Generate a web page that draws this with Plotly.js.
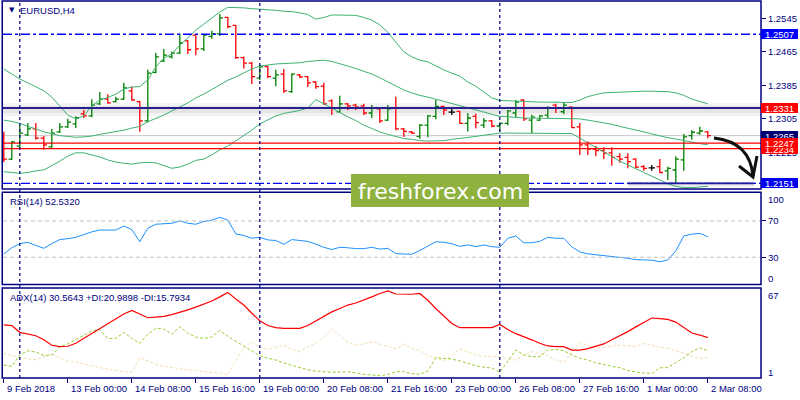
<!DOCTYPE html>
<html><head><meta charset="utf-8">
<script src="https://cdn.plot.ly/plotly-3.0.1.min.js"></script>
<style>html,body{margin:0;padding:0;background:#fff}#chart{width:800px;height:400px}</style>
</head><body><div id="chart"></div>
<script>
// ---- time axis ----
const tickBars = [0, 8, 16, 24, 32, 40, 48, 56, 64, 72, 80, 88];
const tickLabels = ['9 Feb 2018','13 Feb 00:00','14 Feb 08:00','15 Feb 16:00','19 Feb 00:00','20 Feb 08:00','21 Feb 16:00','23 Feb 00:00','26 Feb 08:00','27 Feb 16:00','1 Mar 00:00','2 Mar 08:00'];
const weekStarts = [2, 32, 62];

// ---- EURUSD H4 bars ----
const open = [1.2262,1.2209,1.2240,1.2267,1.2281,1.2259,1.2238,1.2274,1.2286,1.2293,
1.2317,1.2312,1.2341,1.2352,1.2346,1.2352,1.2372,1.2346,1.2300,1.2416,
1.2443,1.2453,1.2462,1.2491,1.2505,1.2472,1.2502,1.2508,1.2547,1.2528,
1.2451,1.2438,1.2402,1.2430,1.2402,1.2412,1.2370,1.2410,1.2406,1.2393,
1.2383,1.2348,1.2322,1.2341,1.2338,1.2336,1.2319,1.2329,1.2302,1.2331,
1.2281,1.2274,1.2263,1.2290,1.2311,1.2335,1.2321,1.2323,1.2294,1.2311,
1.2290,1.2300,1.2288,1.2294,1.2319,1.2350,1.2302,1.2302,1.2314,1.2338,
1.2322,1.2333,1.2286,1.2243,1.2233,1.2229,1.2224,1.2215,1.2213,1.2209,
1.2191,1.2188,1.2191,1.2181,1.2183,1.2207,1.2265,1.2271,1.2274];
const high = [1.2274,1.2252,1.2290,1.2295,1.2295,1.2264,1.2281,1.2295,1.2305,1.2311,
1.2326,1.2352,1.2369,1.2364,1.2358,1.2391,1.2382,1.2348,1.2422,1.2462,
1.2472,1.2466,1.2508,1.2493,1.2508,1.2508,1.2515,1.2555,1.2549,1.2529,
1.2454,1.2441,1.2434,1.2431,1.2422,1.2424,1.2414,1.2412,1.2407,1.2395,
1.2391,1.2352,1.2360,1.2343,1.2341,1.2341,1.2338,1.2331,1.2338,1.2358,
1.2283,1.2276,1.2293,1.2314,1.2350,1.2336,1.2333,1.2324,1.2319,1.2317,
1.2307,1.2302,1.2297,1.2326,1.2350,1.2352,1.2315,1.2314,1.2335,1.2341,
1.2344,1.2335,1.2295,1.2251,1.2240,1.2237,1.2237,1.2223,1.2223,1.2211,
1.2195,1.2195,1.2209,1.2191,1.2216,1.2269,1.2278,1.2286,1.2276];
const low = [1.2202,1.2207,1.2236,1.2264,1.2255,1.2231,1.2236,1.2271,1.2283,1.2283,
1.2307,1.2309,1.2338,1.2341,1.2344,1.2350,1.2348,1.2274,1.2297,1.2414,
1.2441,1.2449,1.2460,1.2460,1.2457,1.2467,1.2496,1.2503,1.2521,1.2448,
1.2425,1.2388,1.2398,1.2402,1.2383,1.2367,1.2367,1.2402,1.2381,1.2377,
1.2338,1.2314,1.2319,1.2326,1.2326,1.2314,1.2307,1.2295,1.2300,1.2278,
1.2262,1.2269,1.2257,1.2261,1.2304,1.2314,1.2314,1.2293,1.2275,1.2282,
1.2283,1.2285,1.2275,1.2290,1.2309,1.2300,1.2271,1.2300,1.2307,1.2319,
1.2316,1.2283,1.2219,1.2219,1.2216,1.2209,1.2193,1.2200,1.2187,1.2187,
1.2181,1.2181,1.2175,1.2159,1.2151,1.2181,1.2255,1.2267,1.2259];
const close = [1.2209,1.2250,1.2271,1.2281,1.2259,1.2243,1.2271,1.2286,1.2297,1.2307,
1.2312,1.2338,1.2352,1.2343,1.2352,1.2379,1.2350,1.2300,1.2414,1.2453,
1.2457,1.2462,1.2486,1.2470,1.2472,1.2505,1.2508,1.2546,1.2525,1.2451,
1.2438,1.2406,1.2429,1.2406,1.2410,1.2372,1.2412,1.2405,1.2391,1.2382,
1.2341,1.2331,1.2341,1.2336,1.2333,1.2319,1.2331,1.2300,1.2329,1.2281,
1.2275,1.2271,1.2290,1.2312,1.2335,1.2326,1.2321,1.2294,1.2307,1.2296,
1.2300,1.2288,1.2294,1.2324,1.2345,1.2305,1.2309,1.2312,1.2332,1.2330,
1.2338,1.2284,1.2243,1.2233,1.2229,1.2223,1.2213,1.2209,1.2203,1.2190,
1.2187,1.2188,1.2177,1.2187,1.2209,1.2262,1.2273,1.2276,1.2265];

// ---- Bollinger Bands ----
const bbUpper = [1.2424,1.2412,1.2400,1.2391,1.2381,1.2372,1.2357,1.2336,1.2314,1.2305,
1.2312,1.2336,1.2350,1.2356,1.2364,1.2376,1.2381,1.2382,1.2398,1.2429,
1.2450,1.2460,1.2481,1.2498,1.2517,1.2531,1.2546,1.2560,1.2571,1.2571,
1.2570,1.2568,1.2567,1.2565,1.2564,1.2562,1.2561,1.2558,1.2554,1.2543,
1.2547,1.2553,1.2553,1.2553,1.2552,1.2547,1.2541,1.2529,1.2512,1.2488,
1.2465,1.2453,1.2445,1.2441,1.2431,1.2422,1.2414,1.2407,1.2393,1.2383,
1.2369,1.2355,1.2349,1.2348,1.2348,1.2346,1.2346,1.2345,1.2345,1.2345,
1.2345,1.2344,1.2350,1.2358,1.2363,1.2367,1.2368,1.2369,1.2370,1.2371,
1.2371,1.2371,1.2370,1.2370,1.2367,1.2361,1.2352,1.2346,1.2341];
const bbMiddle = [1.2302,1.2299,1.2294,1.2288,1.2281,1.2274,1.2269,1.2265,1.2263,1.2261,
1.2262,1.2264,1.2268,1.2271,1.2275,1.2278,1.2283,1.2287,1.2298,1.2306,
1.2314,1.2324,1.2333,1.2343,1.2355,1.2364,1.2375,1.2386,1.2397,1.2405,
1.2414,1.2424,1.2431,1.2434,1.2436,1.2437,1.2438,1.2439,1.2442,1.2444,
1.2445,1.2442,1.2437,1.2431,1.2425,1.2419,1.2412,1.2403,1.2393,1.2383,
1.2374,1.2367,1.2361,1.2357,1.2352,1.2346,1.2341,1.2336,1.2331,1.2326,
1.2321,1.2317,1.2311,1.2310,1.2308,1.2307,1.2307,1.2306,1.2306,1.2306,
1.2306,1.2306,1.2305,1.2302,1.2299,1.2295,1.2292,1.2287,1.2283,1.2278,
1.2274,1.2269,1.2264,1.2260,1.2257,1.2253,1.2250,1.2246,1.2243];
const bbLower = [1.2179,1.2177,1.2175,1.2177,1.2181,1.2183,1.2193,1.2204,1.2216,1.2224,
1.2224,1.2219,1.2214,1.2207,1.2202,1.2199,1.2197,1.2200,1.2201,1.2200,
1.2193,1.2187,1.2190,1.2197,1.2206,1.2209,1.2219,1.2231,1.2240,1.2252,
1.2264,1.2278,1.2293,1.2303,1.2312,1.2318,1.2321,1.2325,1.2331,1.2351,
1.2341,1.2330,1.2319,1.2310,1.2301,1.2290,1.2282,1.2274,1.2268,1.2263,
1.2258,1.2256,1.2253,1.2252,1.2252,1.2253,1.2256,1.2258,1.2260,1.2263,
1.2266,1.2269,1.2271,1.2271,1.2271,1.2271,1.2271,1.2271,1.2271,1.2271,
1.2271,1.2270,1.2259,1.2249,1.2237,1.2226,1.2214,1.2204,1.2195,1.2185,
1.2177,1.2168,1.2159,1.2150,1.2144,1.2141,1.2141,1.2142,1.2144];

// ---- RSI(14) ----
const rsi = [33.5,40.5,45,46.5,43,39.9,45,49.5,50.5,52,
55,58,60,60,60,64.5,60.5,47.2,62,66.4,
67,67.5,70,67.5,66.4,69.5,71,74,71,55.7,
54,51,52,49.1,48.5,44.3,49.5,48.8,47.5,44.5,
41,38.5,41,40.5,39.5,39.5,41,39,39.9,34,
33.3,33.3,37.5,42.5,47.2,46.5,45,42,43.6,41.7,
43.6,41.7,41,50.9,53.5,46,46,47.5,52,50.9,
50.9,41.5,36,33.8,32.8,32.2,31.6,30.3,28.9,27.4,
27,26.8,25,27,37,53.5,55.5,56.4,52.532];
const rsiLevels = [70, 30];

// ---- ADX(14) ----
const adx = [39.9,39.4,34.5,33,32,29,25,24,24.3,26.5,
30,34,37.5,41,44,48,50.5,48,45.2,45.7,
46.2,47.5,49,51,53,55,57.5,60.5,63.8,59,
54.5,48.5,43,39.5,38,37.4,37.4,37.4,39.5,43,
46,49.5,52,54.5,56,58,60.5,63,64.8,62.6,
62.4,62.4,63,58,52,46.5,41,37.9,37.9,37.9,
37.9,37.9,40.3,36.5,33.5,31.5,29,26.5,24.5,24,
24,21.5,21.5,22.5,24.3,26,29,31.8,35,38.5,
41.5,45,44.5,44,42,38,34,32.5,30.564];
const plusDI = [10.5,9.5,17.9,21,20,17.5,17.9,24,26,29,
32,35.5,36.5,30,30,34.5,30,26.4,33,37.4,
37,33,38.6,34,31,30,31,36,31.5,28,
24.5,21,17.4,15.5,14.2,12,10.5,8.5,7,6.1,
5.5,5.2,5.4,5.6,4.8,3.7,3.2,2.8,3.5,5.6,
5.6,4.2,3.7,6,16,15.5,14.9,13.5,11.5,10,
9,8.3,5.2,13,21.5,18,16.6,16.6,21.5,22,
21,17.9,15.5,14.2,12,11,9.5,8.6,6.5,5.5,
4.6,4.4,8.5,8.6,12,16,20.3,23.2,20.99];
const minusDI = [19.1,17.5,15.9,15,14.5,16.5,18.5,16,13.5,12.5,
11,10,8.6,7.5,6.5,5.5,5.4,15.9,13.5,11,
9.5,8.5,7.6,7,6.5,5.6,5,4.5,3.2,14,
23,27.6,23.5,22,23.5,25,22,20.3,24,26.4,
31,37,32,27,25.2,26,27.6,26,24,22.5,
25.7,23,21,17.5,15.9,13.5,17.5,22.3,20,18.5,
16.6,16.6,16.6,14.5,14.2,18,20.3,19,17.4,14,
12.5,20,27.2,25,22.8,23.5,24.5,25.2,24.5,24,
26.4,25,23.5,22.8,21,19.1,17,15.4,15.79];

// ---- price levels and axis labels ----
const priceTicks = [1.2545, 1.2465, 1.2385, 1.2305, 1.2225];
const dashDotLevels = [1.2507, 1.2151];
const redLevels = [1.2247, 1.2234];
const resistanceLevel = 1.2331;
const bidLevel = 1.2265;
const supportLevel = 1.2151;
const boxValues = [1.2507, 1.2331, 1.2265, 1.2234, 1.2247, 1.2151];
const boxColors = ['#0000ff', '#ff0000', '#000070', '#ff0000', '#ff0000', '#0000ee'];

// ---------------- build ----------------
const NAVY = '#000080';
const FONT = 'Liberation Sans, Arial, sans-serif';
const idx = open.map((_, i) => i);
const pick = (arr, ids) => ids.map(i => arr[i]);
const moving = idx.filter(i => open[i] !== close[i]);
const doji = idx.filter(i => open[i] === close[i]);

const bbStyle = {color: '#3cb371', width: 1};
const traces = [
  {type: 'scatter', mode: 'lines', x: idx, y: bbUpper, line: bbStyle, xaxis: 'x', yaxis: 'y', hoverinfo: 'skip'},
  {type: 'scatter', mode: 'lines', x: idx, y: bbMiddle, line: bbStyle, xaxis: 'x', yaxis: 'y', hoverinfo: 'skip'},
  {type: 'scatter', mode: 'lines', x: idx, y: bbLower, line: bbStyle, xaxis: 'x', yaxis: 'y', hoverinfo: 'skip'},
  {type: 'ohlc', x: pick(idx, moving), open: pick(open, moving), high: pick(high, moving),
   low: pick(low, moving), close: pick(close, moving), tickwidth: 0.4,
   increasing: {line: {color: '#008000', width: 1.3}}, decreasing: {line: {color: '#ff0000', width: 1.3}},
   xaxis: 'x', yaxis: 'y', hoverinfo: 'skip'},
  {type: 'ohlc', x: pick(idx, doji), open: pick(open, doji), high: pick(high, doji),
   low: pick(low, doji), close: pick(close, doji), tickwidth: 0.4,
   increasing: {line: {color: '#000000', width: 1.3}}, decreasing: {line: {color: '#000000', width: 1.3}},
   xaxis: 'x', yaxis: 'y', hoverinfo: 'skip'},
  {type: 'scatter', mode: 'lines', x: idx, y: rsi, line: {color: '#1e90ff', width: 1}, xaxis: 'x', yaxis: 'y2', hoverinfo: 'skip'},
  {type: 'scatter', mode: 'lines', x: idx, y: minusDI, line: {color: '#f5deb3', width: 1, dash: '3px,2px'}, xaxis: 'x', yaxis: 'y3', hoverinfo: 'skip'},
  {type: 'scatter', mode: 'lines', x: idx, y: plusDI, line: {color: '#9acd32', width: 1, dash: '3px,2px'}, xaxis: 'x', yaxis: 'y3', hoverinfo: 'skip'},
  {type: 'scatter', mode: 'lines', x: idx, y: adx, line: {color: '#ff0000', width: 1.2}, xaxis: 'x', yaxis: 'y3', hoverinfo: 'skip'}
];

// pixel helpers for decorations (plot area: x 3..761, y 0..400)
const px = v => (v - 3) / 758;
const py = v => (400 - v) / 400;

const shapes = [];
// shadows
shapes.push({type: 'rect', xref: 'paper', yref: 'y', x0: 0, x1: 1, y0: resistanceLevel - 0.0020, y1: resistanceLevel + 0.0011, fillcolor: 'rgba(140,140,140,0.10)', line: {width: 0}, layer: 'below'});
shapes.push({type: 'rect', xref: 'paper', yref: 'y', x0: 0, x1: 1, y0: resistanceLevel - 0.0012, y1: resistanceLevel + 0.0004, fillcolor: 'rgba(140,140,140,0.14)', line: {width: 0}, layer: 'below'});
// levels
dashDotLevels.forEach(v => shapes.push({type: 'line', xref: 'paper', yref: 'y', x0: 0, x1: 1, y0: v, y1: v, line: {color: '#0000ff', width: 1.3, dash: 'dashdot'}}));
shapes.push({type: 'line', xref: 'paper', yref: 'y', x0: 0, x1: 1, y0: bidLevel, y1: bidLevel, line: {color: '#c8c8c8', width: 1}, layer: 'below'});
redLevels.forEach(v => shapes.push({type: 'line', xref: 'paper', yref: 'y', x0: 0, x1: 1, y0: v, y1: v, line: {color: '#ff0000', width: 1.4}}));
shapes.push({type: 'line', xref: 'paper', yref: 'y', x0: 0, x1: 1, y0: resistanceLevel, y1: resistanceLevel, line: {color: '#2a1f8f', width: 2}});
// support segment with shadow
shapes.push({type: 'rect', xref: 'x', yref: 'y', x0: 78, x1: 93.8, y0: supportLevel - 0.0008, y1: supportLevel + 0.0004, fillcolor: 'rgba(140,140,140,0.18)', line: {width: 0}});
shapes.push({type: 'line', xref: 'x', yref: 'y', x0: 78, x1: 93.8, y0: supportLevel, y1: supportLevel, line: {color: '#1a1aa0', width: 1.6}});
// RSI levels
rsiLevels.forEach(v => shapes.push({type: 'line', xref: 'paper', yref: 'y2', x0: 0, x1: 1, y0: v, y1: v, line: {color: '#c0c0c0', width: 1, dash: '4px,3px'}}));
// week separators
weekStarts.forEach(b => shapes.push({type: 'line', xref: 'x', yref: 'paper', x0: b, x1: b, y0: 0.055, y1: 0.9975, line: {color: NAVY, width: 1.2, dash: '3px,3px'}}));
// panel frames
[[0.5275, 0.9975], [0.28875, 0.51925], [0.055, 0.28]].forEach(d => shapes.push({type: 'rect', xref: 'paper', yref: 'paper', x0: -0.001, x1: 1, y0: d[0], y1: d[1], line: {color: NAVY, width: 1.5}, fillcolor: 'rgba(0,0,0,0)'}));
// hand-drawn arrow
shapes.push({type: 'path', xref: 'paper', yref: 'paper', layer: 'above',
  path: `M ${px(714)},${py(138)} Q ${px(750)},${py(142)} ${px(753)},${py(176)}`, line: {color: '#111', width: 3}});
shapes.push({type: 'path', xref: 'paper', yref: 'paper', layer: 'above',
  path: `M ${px(739)},${py(166)} L ${px(753)},${py(177)} L ${px(757)},${py(156)}`, line: {color: '#111', width: 3}});
// watermark box
shapes.push({type: 'rect', xref: 'paper', yref: 'paper', layer: 'above', x0: px(351), x1: px(529), y0: py(207), y1: py(174), fillcolor: '#8fb23f', line: {width: 0}});

const annotations = [];
const txt = (text, x, y, opts) => Object.assign({text, xref: 'paper', yref: 'paper', x, y, xanchor: 'left', yanchor: 'middle', showarrow: false, font: {family: FONT, size: 9.5, color: NAVY}}, opts || {});
annotations.push(txt('▼', px(7), py(10), {font: {family: 'DejaVu Sans', size: 7, color: NAVY}}));
annotations.push(txt('EURUSD,H4', px(18), py(10)));
annotations.push(txt('RSI(14) ' + rsi[rsi.length - 1].toFixed(4), px(8), py(201.5)));
annotations.push(txt('ADX(14) 30.5643 +DI:20.9898 -DI:15.7934', px(8), py(297)));
// right side fixed scale labels of subwindows
annotations.push(txt('100', px(766), py(199.5)));
annotations.push(txt('0', px(766), py(278)));
annotations.push(txt('67', px(766), py(295)));
annotations.push(txt('1', px(766), py(372.5)));
// time labels
tickBars.forEach((b, k) => annotations.push({text: tickLabels[k], xref: 'x', yref: 'paper', x: b, y: py(388.5), xanchor: 'left', yanchor: 'middle', xshift: 1, showarrow: false, font: {family: FONT, size: 9.5, color: NAVY}}));
// price boxes
boxValues.forEach((v, k) => annotations.push({text: v.toFixed(4), xref: 'paper', yref: 'y', x: 1.0005, y: v, xanchor: 'left', yanchor: 'middle', showarrow: false, bgcolor: boxColors[k], width: 37, height: 10, borderpad: 0, borderwidth: 0, font: {family: FONT, size: 9.5, color: '#ffffff'}}));
// watermark text
annotations.push({text: 'freshforex.com', xref: 'paper', yref: 'paper', x: px(440), y: py(191), xanchor: 'center', yanchor: 'middle', showarrow: false, font: {family: 'DejaVu Sans', size: 22, color: '#ffffff'}});

const axisFont = {family: FONT, size: 9.5, color: NAVY};
const layout = {
  width: 800, height: 400,
  margin: {l: 3, r: 39, t: 0, b: 0},
  paper_bgcolor: '#ffffff', plot_bgcolor: '#ffffff',
  showlegend: false, hovermode: false,
  font: {family: FONT, color: NAVY},
  xaxis: {range: [-0.1, 94.65], anchor: 'y3', showgrid: false, zeroline: false, showline: false,
          tickvals: tickBars, ticktext: tickBars.map(() => ''), ticks: 'outside', ticklen: 4, tickcolor: NAVY,
          rangeslider: {visible: false}, fixedrange: true},
  yaxis: {domain: [0.5275, 0.9975], range: [1.21376, 1.25863], side: 'right', anchor: 'x', showgrid: false, zeroline: false,
          tickvals: priceTicks, ticktext: priceTicks.map(v => v.toFixed(4)), ticks: 'outside', ticklen: 4, tickcolor: NAVY, tickfont: axisFont, fixedrange: true},
  yaxis2: {domain: [0.28875, 0.51925], range: [0, 101.6], side: 'right', anchor: 'x', showgrid: false, zeroline: false,
           tickvals: rsiLevels, ticktext: rsiLevels.map(String), ticks: 'outside', ticklen: 4, tickcolor: NAVY, tickfont: axisFont, fixedrange: true},
  yaxis3: {domain: [0.055, 0.28], range: [1, 67], side: 'right', anchor: 'x', showgrid: false, zeroline: false,
           showticklabels: false, ticks: '', fixedrange: true},
  shapes, annotations
};

Plotly.newPlot('chart', traces, layout, {displayModeBar: false, staticPlot: true});
</script>
</body></html>
